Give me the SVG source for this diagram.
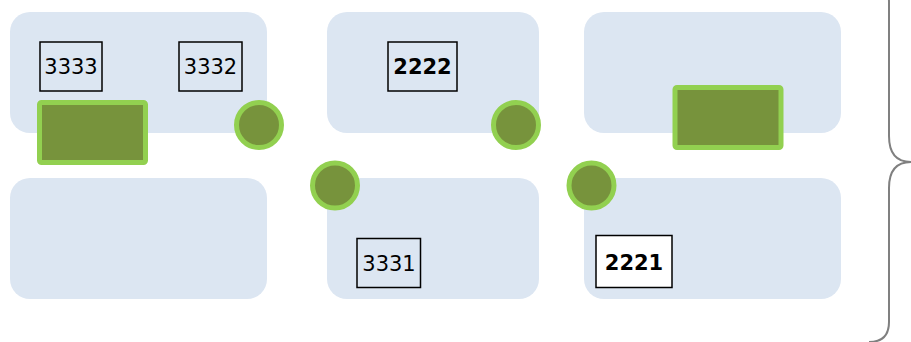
<svg xmlns="http://www.w3.org/2000/svg" width="911" height="342" viewBox="0 0 911 342">
<style>
.panel{fill:#DCE6F2;}
.lbl{fill:none;stroke:#000;stroke-width:1.5;}
.lblw{fill:#fff;stroke:#000;stroke-width:1.5;}
.t{font-family:"DejaVu Sans",Verdana,sans-serif;font-size:21px;fill:#000;text-anchor:middle;}
.b{font-weight:bold;}
.gr{fill:#77933C;stroke:#92D050;stroke-width:5;}
.brace{fill:none;stroke:#808080;stroke-width:2;}
</style>
<rect width="911" height="342" fill="#fff"/>
<g id="panel-tl"><rect class="panel" x="10" y="12" width="257" height="121" rx="20"/></g>
<g id="panel-tm"><rect class="panel" x="327" y="12" width="212" height="121" rx="20"/></g>
<g id="panel-tr"><rect class="panel" x="584" y="12" width="257" height="121" rx="20"/></g>
<g id="panel-bl"><rect class="panel" x="10" y="178" width="257" height="121" rx="20"/></g>
<g id="panel-bm"><rect class="panel" x="327" y="178" width="212" height="121" rx="20"/></g>
<g id="panel-br"><rect class="panel" x="584" y="178" width="257" height="121" rx="20"/></g>

<g id="n3333"><rect class="lbl" x="40" y="42" width="62" height="49"/><text class="t" x="71" y="74">3333</text></g>
<g id="n3332"><rect class="lbl" x="179" y="42" width="63" height="49"/><text class="t" x="210.5" y="74">3332</text></g>
<g id="n2222"><rect class="lbl" x="388" y="42" width="69" height="49"/><text class="t b" x="422.5" y="74">2222</text></g>
<g id="n3331"><rect class="lbl" x="357" y="238.5" width="63.5" height="49"/><text class="t" x="389" y="271">3331</text></g>
<g id="n2221"><rect class="lblw" x="596" y="235.5" width="76" height="52"/><text class="t b" x="634" y="269.5">2221</text></g>

<g id="g-rect-left"><rect class="gr" x="39.5" y="102.5" width="106" height="60" rx="2"/></g>
<g id="g-rect-right"><rect class="gr" x="675" y="87.5" width="106" height="60" rx="2"/></g>
<g id="c1"><circle class="gr" cx="259" cy="125" r="22.5"/></g>
<g id="c2"><circle class="gr" cx="516" cy="125" r="22.5"/></g>
<g id="c3"><circle class="gr" cx="335" cy="185.5" r="22.5"/></g>
<g id="c4"><circle class="gr" cx="591.5" cy="185.5" r="22.5"/></g>

<g id="connectors">
<path class="brace" d="M 870 -18 Q 889 -18 889 2 L 889 136 Q 889 162 911 162 Q 889 162 889 188 L 889 322 Q 889 342 869 342"/>
</g>
</svg>
